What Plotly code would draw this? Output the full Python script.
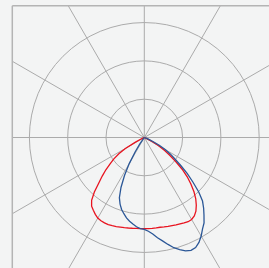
import numpy as np
import plotly.graph_objects as go

# ---- data (luminous intensity, arbitrary units; ring spacing = 100) ----
angles = [-90, -80, -70, -65, -62.5, -60, -57.5, -55, -52.5, -50, -47.5, -45, -42.5, -40,
          -37.5, -35, -32.5, -30, -27.5, -25, -22.5, -20, -17.5, -15, -12.5, -10, -7.5, -5, -2.5,
          0, 2.5, 5, 7.5, 10, 12.5, 15, 17.5, 20, 22.5, 25, 27.5, 30, 32.5, 35, 37.5, 40,
          42.5, 45, 47.5, 50, 52.5, 55, 57.5, 60, 62.5, 65, 67.5, 70, 80, 90]

red_values = [0, 0, 1, 8, 26, 57, 78, 97, 112, 131, 149, 168, 193, 214,
              226, 232, 238, 243, 245, 246, 246, 245, 244, 242, 241, 240, 239, 238, 238,
              238, 238, 238, 238, 238, 239, 240, 241, 243, 244, 246, 248, 247, 243, 235, 223, 209,
              192, 172, 152, 129, 104, 81, 63, 42, 24, 10, 4, 1, 0, 0]

blue_values = [0, 0, 0, 0, 0, 0, 0, 0, 0, 0, 0, 0, 0, 0,
               5, 21, 44, 78, 112, 144, 170, 185, 197, 206, 215, 222, 228, 234, 238,
               240, 245, 253, 264, 274, 286, 298, 307, 315, 319, 317, 309, 297, 283, 272, 256, 241,
               225, 201, 172, 146, 120, 97, 81, 63, 44, 26, 13, 5, 0, 0]

ring_values = [100, 200, 300]
spoke_angles = list(range(0, 360, 30))

# ---- geometry of the page (pixels) ----
W, H = 269, 268
cx, cy = 144.3, 137.5          # pole position
ring_px = 38.3                 # pixels per 100 units
R_px = 124.0                   # polar radius that fits in the page
frame = (12.3, 5.7, 2 * cx - 12.3, 2 * cy - 5.7)  # left, top, right, bottom

def px(x):
    return x / W

def py(y):
    return 1 - y / H

grid_col = "#ababab"
shapes = []
# spokes from pole to the frame
for a in spoke_angles:
    t = np.deg2rad(a)
    dx, dy = np.sin(t), np.cos(t)   # 0 deg = down, positive = right
    cands = []
    if dx > 1e-9:
        cands.append((frame[2] - cx) / dx)
    if dx < -1e-9:
        cands.append((frame[0] - cx) / dx)
    if dy > 1e-9:
        cands.append((frame[3] - cy) / dy)
    if dy < -1e-9:
        cands.append((frame[1] - cy) / dy)
    s = min(cands)
    shapes.append(dict(type="line", xref="paper", yref="paper", layer="below",
                       x0=px(cx), y0=py(cy), x1=px(cx + s * dx), y1=py(cy + s * dy),
                       line=dict(color=grid_col, width=1)))
# frame (left and top edges are the visible ones)
shapes.append(dict(type="line", xref="paper", yref="paper", layer="below",
                   x0=px(frame[0]), y0=py(frame[3]), x1=px(frame[0]), y1=py(frame[1]),
                   line=dict(color="#b4b4b4", width=1.5)))
shapes.append(dict(type="line", xref="paper", yref="paper", layer="below",
                   x0=px(frame[0]), y0=py(frame[1]), x1=px(frame[2]), y1=py(frame[1]),
                   line=dict(color="#b4b4b4", width=1.5)))

fig = go.Figure()
fig.add_trace(go.Scatterpolar(r=red_values, theta=angles, mode="lines",
                              line=dict(color="#e8131f", width=1.3), showlegend=False,
                              hoverinfo="skip"))
fig.add_trace(go.Scatterpolar(r=blue_values, theta=angles, mode="lines",
                              line=dict(color="#2b5797", width=1.3), showlegend=False,
                              hoverinfo="skip"))

rmax = R_px / ring_px * 100
fig.update_layout(
    width=W, height=H,
    margin=dict(l=0, r=0, t=0, b=0),
    paper_bgcolor="#f3f4f4",
    plot_bgcolor="#f3f4f4",
    shapes=shapes,
    showlegend=False,
    polar=dict(
        domain=dict(x=[px(cx - R_px), px(cx + R_px)], y=[py(cy + R_px), py(cy - R_px)]),
        bgcolor="rgba(0,0,0,0)",
        radialaxis=dict(range=[0, rmax], tickvals=ring_values, showticklabels=False,
                        ticks="", showline=False, gridcolor=grid_col, gridwidth=1),
        angularaxis=dict(rotation=-90, direction="counterclockwise", showgrid=False,
                         showticklabels=False, ticks="", showline=False),
    ),
)

fig.write_html("out.html",
               config={"displayModeBar": False, "staticPlot": True},
               post_script="document.body.style.margin='0';"
                           "document.body.style.background='#f3f4f4';"
                           "document.body.style.overflow='hidden';")
